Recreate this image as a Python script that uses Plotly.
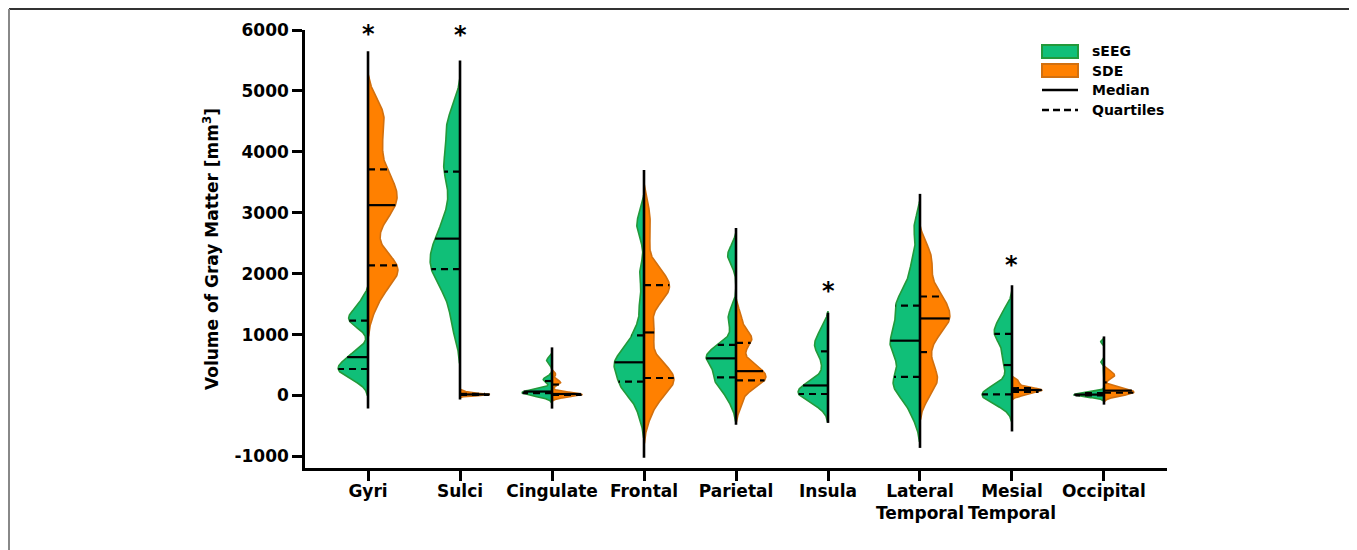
import numpy as np
import plotly.graph_objects as go

# ---------------- data ----------------
categories = ["Gyri", "Sulci", "Cingulate", "Frontal", "Parietal", "Insula",
              "Lateral<br>Temporal", "Mesial<br>Temporal", "Occipital"]

# sEEG sample volumes (mm^3) per region
seeg_gyri = [250, 330, 390, 420, 440, 470, 520, 600, 660, 720, 1150, 1220, 1260, 1320, 1400, 1550]
seeg_sulci = [1100, 1450, 1750, 1900, 2000, 2100, 2200, 2300, 2400, 2500, 2650, 2800, 3000, 3300,
              3650, 3750, 3900, 4250, 4400, 4650]
seeg_cingulate = [-20, 10, 20, 30, 40, 50, 55, 60, 70, 80, 100, 230, 260, 290, 540, 600]
seeg_frontal = [-300, 0, 80, 150, 190, 240, 380, 450, 500, 530, 560, 620, 700, 800, 950, 1100,
                1500, 2000, 2700, 2900]
seeg_parietal = [-100, 100, 200, 250, 280, 350, 520, 570, 600, 620, 650, 700, 780, 850, 1200, 1350,
                 2250, 2350]
seeg_insula = [-150, -50, 0, 10, 30, 60, 100, 150, 180, 250, 500, 700, 800, 850, 950, 1100]
seeg_lat_temporal = [-300, 0, 100, 200, 260, 320, 600, 700, 800, 850, 950, 1050, 1200, 1350, 1450,
                     1550, 1650, 1900, 2200, 2750]
seeg_mes_temporal = [-120, -40, 0, 0, 10, 20, 30, 60, 150, 400, 600, 650, 850, 950, 1000, 1050,
                     1100, 1200, 1300, 1400]
seeg_occipital = [-20, -10, 0, 0, 5, 10, 15, 20, 30, 40, 50, 540, 880]

# SDE sample volumes (mm^3) per region
sde_gyri = [1500, 1800, 1950, 2050, 2100, 2150, 2250, 2700, 3000, 3100, 3150, 3300, 3400, 3500,
            3650, 3900, 4150, 4400, 4600, 4750]
sde_sulci = [0, 5, 10, 12, 15, 18, 20, 25, 30, 45, 70]
sde_cingulate = [-10, 0, 5, 10, 15, 20, 25, 30, 40, 180, 210, 240, 350]
sde_frontal = [-300, 0, 100, 200, 250, 300, 350, 400, 550, 1000, 1070, 1550, 1650, 1750, 1800, 1850,
               1950, 2100, 2600, 3000]
sde_parietal = [-150, 100, 180, 220, 260, 300, 340, 380, 420, 480, 600, 850, 900, 950, 1050, 1300]
sde_insula = []
sde_lat_temporal = [0, 200, 300, 400, 650, 900, 1050, 1150, 1230, 1300, 1350, 1450, 1550, 1650,
                    1750, 2000, 2200, 2400]
sde_mes_temporal = [0, 20, 40, 60, 70, 80, 90, 100, 110, 120, 150, 200, 250]
sde_occipital = [-10, 10, 30, 40, 50, 60, 70, 80, 100, 120, 150, 280, 320, 350, 400]

# kernel bandwidths used for the density outlines
bw_seeg = [115, 260, 45, 180, 150, 130, 210, 140, 30]
bw_sde = [240, 15, 35, 220, 130, 130, 180, 30, 40]

# overall range line per region
line_low = [-215, -65, -215, -1020, -480, -450, -860, -590, -150]
line_high = [5650, 5500, 790, 3700, 2750, 1360, 3310, 1810, 970]

# significance markers
star_index = [0, 1, 5, 7]
star_value = [5995, 5990, 1780, 2210]

seeg_all = [seeg_gyri, seeg_sulci, seeg_cingulate, seeg_frontal, seeg_parietal, seeg_insula,
            seeg_lat_temporal, seeg_mes_temporal, seeg_occipital]
sde_all = [sde_gyri, sde_sulci, sde_cingulate, sde_frontal, sde_parietal, sde_insula,
           sde_lat_temporal, sde_mes_temporal, sde_occipital]

# ---------------- style ----------------
GREEN_FILL = "#10BF78"
GREEN_LINE = "#23993A"
ORANGE_FILL = "#FF8000"
ORANGE_LINE = "#D2700F"
HALF = 0.325
CUT = 2.2
FONT = "DejaVu Sans"


def kde(vals, h, n=300):
    v = np.asarray(vals, float)
    y = np.linspace(v.min() - CUT * h, v.max() + CUT * h, n)
    d = np.exp(-0.5 * ((y[:, None] - v[None, :]) / h) ** 2).sum(axis=1)
    return y, d / d.max()


fig = go.Figure()
med_x, med_y, q_x, q_y = [], [], [], []

for groups, bws, side, fc, lc in [(seeg_all, bw_seeg, -1, GREEN_FILL, GREEN_LINE),
                                  (sde_all, bw_sde, 1, ORANGE_FILL, ORANGE_LINE)]:
    for i, (vals, h) in enumerate(zip(groups, bws)):
        if len(vals) == 0:
            continue
        y, w = kde(vals, h)
        xs = np.concatenate([i + side * HALF * w, [i, i]])
        ys = np.concatenate([y, [y[-1], y[0]]])
        fig.add_trace(go.Scatter(x=xs, y=ys, mode="lines", fill="toself", fillcolor=fc,
                                 line=dict(color=lc, width=1.6), hoverinfo="skip",
                                 showlegend=False))
        q1, med, q3 = np.percentile(vals, [25, 50, 75])
        for val, bx, by in [(med, med_x, med_y), (q1, q_x, q_y), (q3, q_x, q_y)]:
            ww = np.interp(val, y, w)
            bx += [i, i + side * HALF * ww, None]
            by += [val, val, None]

# range lines
vx, vy = [], []
for i, (lo, hi) in enumerate(zip(line_low, line_high)):
    vx += [i, i, None]
    vy += [lo, hi, None]
fig.add_trace(go.Scatter(x=vx, y=vy, mode="lines", line=dict(color="black", width=2.6),
                         hoverinfo="skip", showlegend=False))
fig.add_trace(go.Scatter(x=med_x, y=med_y, mode="lines", line=dict(color="black", width=2.2),
                         hoverinfo="skip", showlegend=False))
fig.add_trace(go.Scatter(x=q_x, y=q_y, mode="lines",
                         line=dict(color="black", width=2.2, dash="7px,5px"),
                         hoverinfo="skip", showlegend=False))

annotations = []
for idx, val in zip(star_index, star_value):
    annotations.append(dict(x=idx, y=val, xref="x", yref="y", text="<b>*</b>", showarrow=False,
                            font=dict(family=FONT, size=24, color="black"), yanchor="middle",
                            yshift=-4))

# manual legend / frame, positions given in reference-image pixels
OFF = 8  # page offset of the figure
PX0, PW, PY1, PH = 305 - OFF, 862, 30 - OFF, 438


def px(x):
    return (x - OFF - PX0) / PW


def py(y):
    return (PY1 + PH - (y - OFF)) / PH


shapes = [
    dict(type="rect", xref="paper", yref="paper", x0=px(1042), x1=px(1078), y0=py(58), y1=py(45),
         fillcolor=GREEN_FILL, line=dict(color=GREEN_LINE, width=2)),
    dict(type="rect", xref="paper", yref="paper", x0=px(1042), x1=px(1078), y0=py(77), y1=py(64),
         fillcolor=ORANGE_FILL, line=dict(color=ORANGE_LINE, width=2)),
    dict(type="line", xref="paper", yref="paper", x0=px(1042), x1=px(1078), y0=py(90), y1=py(90),
         line=dict(color="black", width=2.4)),
    dict(type="line", xref="paper", yref="paper", x0=px(1042), x1=px(1078), y0=py(110), y1=py(110),
         line=dict(color="black", width=2.4, dash="7px,4px")),
    # outer frame
    dict(type="line", xref="paper", yref="paper", x0=px(9), x1=px(1356), y0=py(9), y1=py(9),
         line=dict(color="#333333", width=2)),
    dict(type="line", xref="paper", yref="paper", x0=px(9), x1=px(9), y0=py(9), y1=py(560),
         line=dict(color="#888888", width=2)),
    dict(type="line", xref="paper", yref="paper", x0=px(1355), x1=px(1355), y0=py(9), y1=py(560),
         line=dict(color="#888888", width=2)),
]
for label, yy in [("sEEG", 51), ("SDE", 70.5), ("Median", 90), ("Quartiles", 110)]:
    annotations.append(dict(x=px(1090), y=py(yy), xref="paper", yref="paper", text=f"<b>{label}</b>",
                            showarrow=False, xanchor="left", yanchor="middle",
                            font=dict(family=FONT, size=14, color="black")))

W, H = 1357 - OFF, 550 - OFF
fig.update_layout(
    width=W, height=H,
    margin=dict(l=PX0, r=W - PX0 - PW, t=PY1, b=H - PY1 - PH),
    paper_bgcolor="white", plot_bgcolor="white",
    font=dict(family=FONT, color="black"),
    xaxis=dict(range=[-0.685, 8.685], tickmode="array", tickvals=list(range(len(categories))),
               ticktext=[f"<b>{c}</b>" for c in categories], showline=True, linecolor="black",
               linewidth=2.6, ticks="outside", ticklen=10, tickwidth=2.6, tickcolor="black",
               ticklabelstandoff=-4,
               showgrid=False, zeroline=False, tickfont=dict(family=FONT, size=17, color="black")),
    yaxis=dict(range=[-1190, 6000], tickmode="array", tickvals=list(range(-1000, 6001, 1000)),
               ticktext=[f"<b>{v}</b>" for v in range(-1000, 6001, 1000)], showline=True,
               linecolor="black", linewidth=2.6, ticks="outside", ticklen=10, tickwidth=2.6,
               tickcolor="black", showgrid=False, zeroline=False,
               tickfont=dict(family=FONT, size=17, color="black"),
               title=dict(text="<b>Volume of Gray Matter [mm<sup>3</sup>]</b>",
                          font=dict(family=FONT, size=17, color="black"), standoff=12)),
    annotations=annotations,
    shapes=shapes,
)

fig.write_html("out.html")
